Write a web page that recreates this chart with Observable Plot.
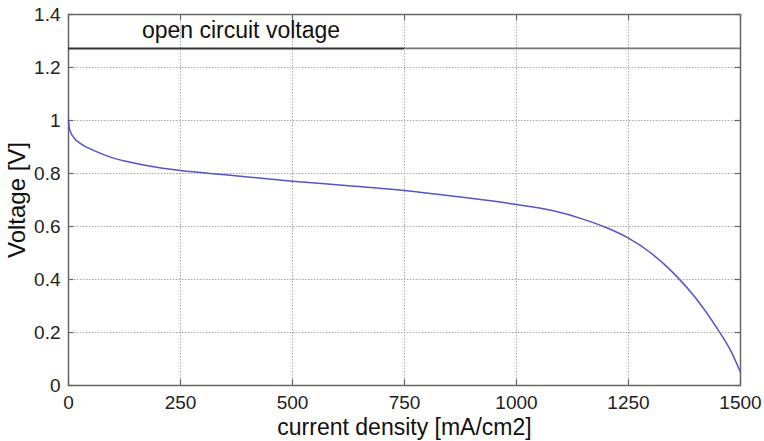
<!DOCTYPE html>
<html>
<head>
<meta charset="utf-8">
<script src="https://cdn.jsdelivr.net/npm/d3@7"></script>
<script src="https://cdn.jsdelivr.net/npm/@observablehq/plot@0.6"></script>
<style>
  html, body { margin: 0; padding: 0; background: #fff; }
  #chart svg { display: block; }
</style>
</head>
<body>
<div id="chart"></div>
<script>
// Polarization curve values
const currentDensity = [0, 2, 5, 12, 27, 56, 100, 131, 180, 250, 350, 500, 625, 750, 875, 1000, 1080, 1150, 1200, 1250, 1300, 1350, 1400, 1450, 1480, 1500];
const voltage = [1.0, 0.97, 0.955, 0.935, 0.913, 0.887, 0.858, 0.845, 0.828, 0.811, 0.795, 0.771, 0.754, 0.736, 0.711, 0.683, 0.66, 0.627, 0.596, 0.556, 0.5, 0.425, 0.33, 0.21, 0.125, 0.05];

// Open circuit voltage reference line (two drawn segments)
const ocvValue = 1.272;
const ocvSegmentsX1 = [0, 750];
const ocvSegmentsX2 = [750, 1500];
const ocvLabel = "open circuit voltage";
const ocvLabelX = 385;
const ocvLabelY = 1.34;

// Axes
const xTicks = [0, 250, 500, 750, 1000, 1250, 1500];
const yTicks = [0, 0.2, 0.4, 0.6, 0.8, 1, 1.2, 1.4];
const xTickLabels = ["0", "250", "500", "750", "1000", "1250", "1500"];
const yTickLabels = ["0", "0.2", "0.4", "0.6", "0.8", "1", "1.2", "1.4"];
const xLabel = "current density [mA/cm2]";
const yLabel = "Voltage [V]";

const curve = currentDensity.map((c, i) => ({c, v: voltage[i]}));
const ocvSegs = ocvSegmentsX1.map((x1, i) => ({x1, x2: ocvSegmentsX2[i], y: ocvValue, k: i}));
const xTickData = xTicks.map((v, i) => ({v, t: xTickLabels[i]}));
const yTickData = yTicks.map((v, i) => ({v, t: yTickLabels[i]}));

const chart = Plot.plot({
  width: 764,
  height: 441,
  marginLeft: 68,
  marginRight: 24,
  marginTop: 14,
  marginBottom: 56,
  style: {fontFamily: "Liberation Sans, Arial, sans-serif", background: "#fff"},
  x: {domain: [0, 1500], axis: null},
  y: {domain: [0, 1.4], axis: null},
  marks: [
    Plot.ruleX(xTicks, {x: d => d, stroke: "#a8a8a8", strokeWidth: 1, strokeDasharray: "1.5,1.5"}),
    Plot.ruleY(yTicks, {y: d => d, stroke: "#a8a8a8", strokeWidth: 1, strokeDasharray: "1.5,1.5"}),
    Plot.frame({stroke: "#666", strokeWidth: 1.5}),
    // inward ticks on all four sides
    Plot.ruleX(xTicks, {x: d => d, y1: 0, y2: 0.022, stroke: "#666", strokeWidth: 1.2}),
    Plot.ruleX(xTicks, {x: d => d, y1: 1.378, y2: 1.4, stroke: "#666", strokeWidth: 1.2}),
    Plot.ruleY(yTicks, {y: d => d, x1: 0, x2: 12, stroke: "#666", strokeWidth: 1.2}),
    Plot.ruleY(yTicks, {y: d => d, x1: 1488, x2: 1500, stroke: "#666", strokeWidth: 1.2}),
    // tick labels
    Plot.text(xTickData, {x: "v", y: 0, dy: 17, text: "t", fontSize: 19, fill: "#222", lineAnchor: "middle"}),
    Plot.text(yTickData, {x: 0, y: "v", dx: -8, text: "t", fontSize: 19, fill: "#222", textAnchor: "end", lineAnchor: "middle"}),
    Plot.ruleY(ocvSegs, {x1: "x1", x2: "x2", y: "y", stroke: d => d.k === 0 ? "#333" : "#777", strokeWidth: d => d.k === 0 ? 2 : 1.6}),
    Plot.text([ocvLabel], {x: ocvLabelX, y: ocvLabelY, text: d => d, fontSize: 23, fill: "#111"}),
    Plot.line(curve, {x: "c", y: "v", curve: "monotone-x", stroke: "#5555c8", strokeWidth: 1.5}),
    Plot.text([xLabel], {frameAnchor: "bottom", dy: 42, text: d => d, fontSize: 23, fill: "#111", lineAnchor: "middle"}),
    Plot.text([yLabel], {frameAnchor: "left", textAnchor: "middle", dx: -51, text: d => d, rotate: -90, fontSize: 24, fill: "#111"})
  ]
});
document.getElementById("chart").append(chart);
</script>
</body>
</html>
